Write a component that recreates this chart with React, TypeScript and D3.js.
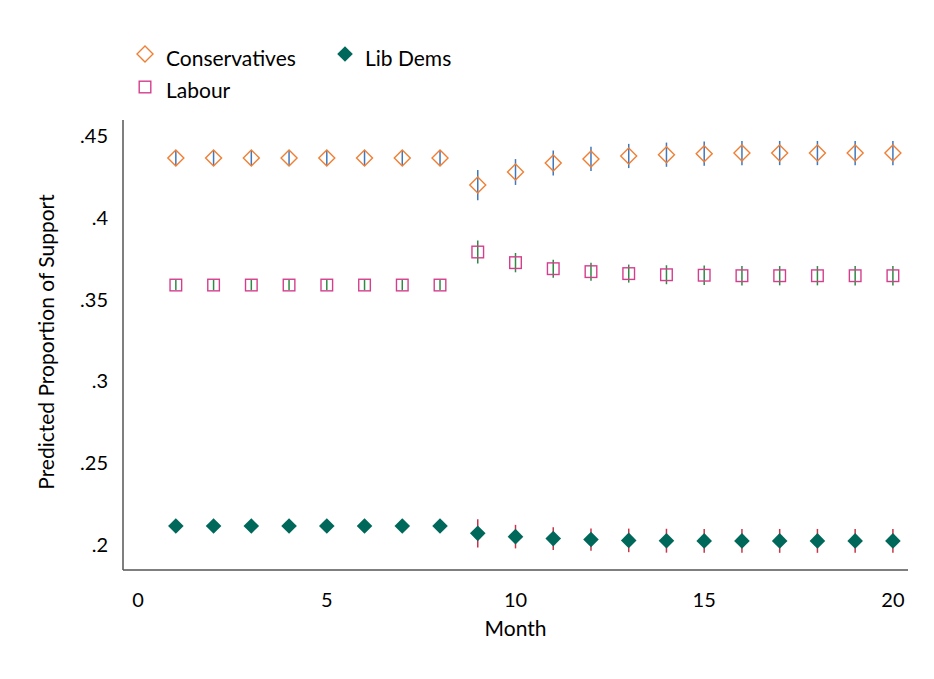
import * as d3 from "d3";
import React from "react";

// months shown on the x axis
const months = [1, 2, 3, 4, 5, 6, 7, 8, 9, 10, 11, 12, 13, 14, 15, 16, 17, 18, 19, 20];

// predicted proportion of support (point estimates)
const conservatives = [
  0.4366, 0.4366, 0.4366, 0.4366, 0.4366, 0.4366, 0.4366, 0.4366,
  0.4200, 0.4280, 0.4335, 0.4360, 0.4378, 0.4386, 0.4392, 0.4396,
  0.4396, 0.4396, 0.4396, 0.4396,
];
const labour = [
  0.3589, 0.3589, 0.3589, 0.3589, 0.3589, 0.3589, 0.3589, 0.3589,
  0.3791, 0.3726, 0.3689, 0.3671, 0.3659, 0.3652, 0.3649, 0.3646,
  0.3646, 0.3646, 0.3646, 0.3646,
];
const libDems = [
  0.2116, 0.2116, 0.2116, 0.2116, 0.2116, 0.2116, 0.2116, 0.2116,
  0.2071, 0.2051, 0.2039, 0.2033, 0.2028, 0.2026, 0.2025, 0.2025,
  0.2025, 0.2025, 0.2025, 0.2025,
];

// half width of the confidence interval
const conservativesCI = [
  0.0043, 0.0043, 0.0043, 0.0043, 0.0043, 0.0043, 0.0043, 0.0043,
  0.0092, 0.0079, 0.0076, 0.0074, 0.0074, 0.0074, 0.0074, 0.0074,
  0.0074, 0.0074, 0.0074, 0.0074,
];
const labourCI = [
  0.0031, 0.0031, 0.0031, 0.0031, 0.0031, 0.0031, 0.0031, 0.0031,
  0.0071, 0.0059, 0.0055, 0.0055, 0.0055, 0.0058, 0.0059, 0.0059,
  0.0059, 0.0059, 0.0059, 0.0059,
];
const libDemsCI = [
  0.0035, 0.0035, 0.0035, 0.0035, 0.0035, 0.0035, 0.0035, 0.0035,
  0.0086, 0.0072, 0.0070, 0.0068, 0.0072, 0.0073, 0.0073, 0.0073,
  0.0073, 0.0073, 0.0073, 0.0073,
];

const xTicks = [0, 5, 10, 15, 20];
const yTicks = [0.2, 0.25, 0.3, 0.35, 0.4, 0.45];

const width = 934;
const height = 679;
const font = "Lato, 'Open Sans', sans-serif";

const x = d3.scaleLinear().domain([-0.4, 20.4]).range([123, 908]);
const y = d3.scaleLinear().domain([0.1847, 0.4598]).range([570, 120]);

const fmtY = (v: number) => d3.format(".2~f")(v).replace(/^0/, "");

const diamond = (r: number) => `M0,${-r}L${r},0L0,${r}L${-r},0Z`;

type Series = {
  name: string;
  values: number[];
  ci: number[];
  marker: "hollowDiamond" | "hollowSquare" | "filledDiamond";
  color: string;
  barColor: string;
};

const series: Series[] = [
  { name: "Conservatives", values: conservatives, ci: conservativesCI, marker: "hollowDiamond", color: "#ef7f34", barColor: "#4078bd" },
  { name: "Labour", values: labour, ci: labourCI, marker: "hollowSquare", color: "#d43f8d", barColor: "#2e8a45" },
  { name: "Lib Dems", values: libDems, ci: libDemsCI, marker: "filledDiamond", color: "#00685a", barColor: "#c8344a" },
];

function Marker({ type, color }: { type: Series["marker"]; color: string }) {
  if (type === "hollowDiamond")
    return <path d={diamond(8)} fill="none" stroke={color} strokeWidth={1.4} />;
  if (type === "hollowSquare")
    return <rect x={-5.8} y={-5.8} width={11.6} height={11.6} fill="none" stroke={color} strokeWidth={1.4} />;
  return <path d={diamond(7.8)} fill={color} />;
}

export default function App() {
  return (
    <svg width={width} height={height} style={{ position: "absolute", left: 0, top: 0, background: "#fff" }}>
      {/* axes */}
      <line x1={x(-0.4)} x2={x(-0.4)} y1={y(0.4598)} y2={y(0.1847)} stroke="#555" strokeWidth={1.5} />
      <line x1={x(-0.4)} x2={x(20.4)} y1={y(0.1847)} y2={y(0.1847)} stroke="#555" strokeWidth={1.5} />

      {yTicks.map((t) => (
        <text key={t} x={108} y={y(t)} dy="0.35em" textAnchor="end" fontFamily={font} fontSize={20} fill="#000">
          {fmtY(t)}
        </text>
      ))}
      {xTicks.map((t) => (
        <text key={t} x={x(t)} y={607} textAnchor="middle" fontFamily={font} fontSize={20} fill="#000">
          {t}
        </text>
      ))}

      <text x={(x(-0.4) + x(20.4)) / 2} y={636} textAnchor="middle" fontFamily={font} fontSize={21} fill="#000">
        Month
      </text>
      <text transform={`translate(54,${(y(0.4598) + y(0.1847)) / 2 - 3}) rotate(-90)`} textAnchor="middle" fontFamily={font} fontSize={21} fill="#000">
        Predicted Proportion of Support
      </text>

      {/* error bars then markers */}
      {series.map((s) => (
        <g key={s.name}>
          {s.values.map((v, i) => (
            <line key={i} x1={x(months[i])} x2={x(months[i])} y1={y(v - s.ci[i])} y2={y(v + s.ci[i])} stroke={s.barColor} strokeWidth={1.5} />
          ))}
          {s.values.map((v, i) => (
            <g key={"m" + i} transform={`translate(${x(months[i])},${y(v)})`}>
              <Marker type={s.marker} color={s.color} />
            </g>
          ))}
        </g>
      ))}

      {/* legend */}
      <g fontFamily={font} fontSize={21} fill="#000">
        <g transform="translate(145,54)"><Marker type="hollowDiamond" color={series[0].color} /></g>
        <text x={166} y={66}>{series[0].name}</text>
        <g transform="translate(345,54)"><Marker type="filledDiamond" color={series[2].color} /></g>
        <text x={365} y={66}>{series[2].name}</text>
        <g transform="translate(145,87)"><Marker type="hollowSquare" color={series[1].color} /></g>
        <text x={166} y={98}>{series[1].name}</text>
      </g>
    </svg>
  );
}
